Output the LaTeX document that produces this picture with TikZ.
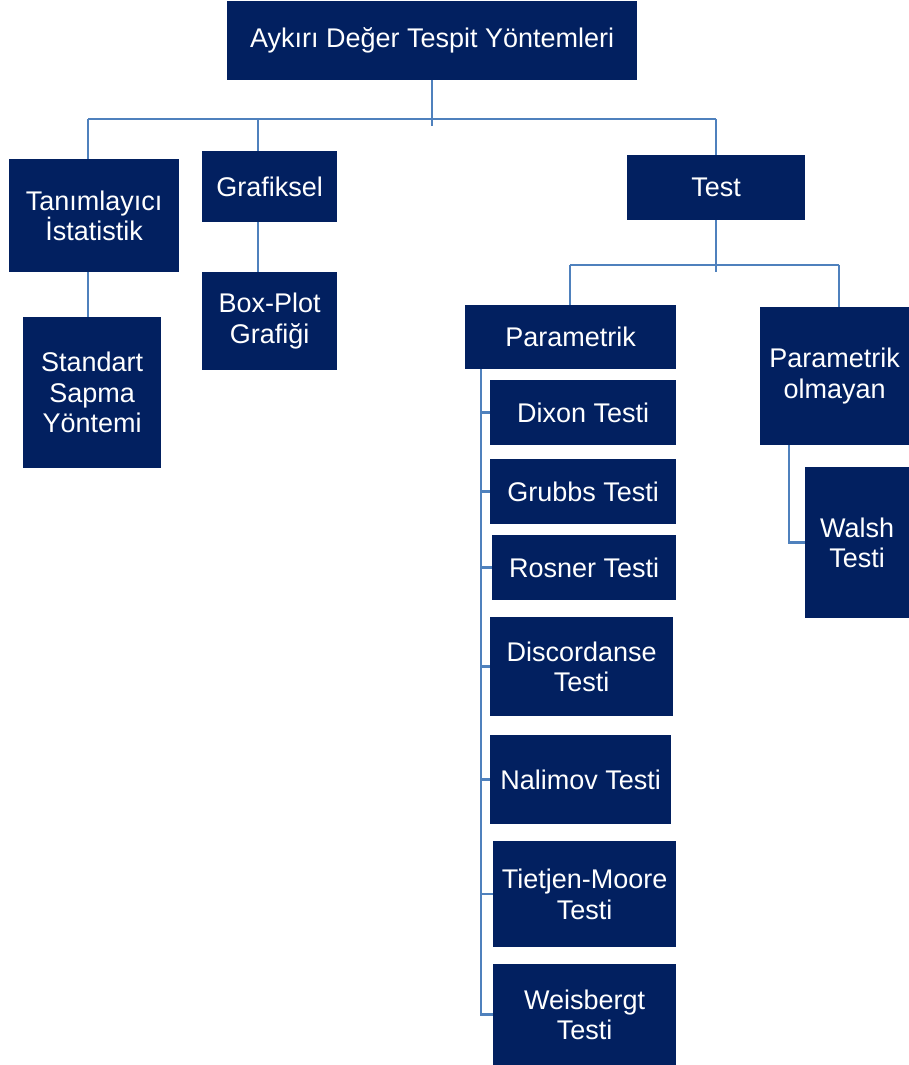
\documentclass[tikz,border=0pt]{standalone}
\usepackage{fontspec}
\setmainfont{Liberation Sans}
\definecolor{boxblue}{RGB}{2,32,96}
\definecolor{linkblue}{RGB}{79,129,189}
\begin{document}
\begin{tikzpicture}[x=1pt,y=-1pt,
  box/.style={fill=boxblue, text=white, inner sep=0pt, anchor=north west, align=center,
              font=\fontsize{27}{30.5}\selectfont},
  conn/.style={draw=linkblue, line width=2.5pt}]
\useasboundingbox (0,0) rectangle (909,1065);

\coordinate (hubL) at (88,119);
\coordinate (hubR) at (716,119);
\coordinate (gx) at (258,119);
\coordinate (h2L) at (570,265);
\coordinate (h2R) at (839,265);

% boxes
\node[box, minimum width=410pt, minimum height=79pt] (root) at (227,1) {Aykırı Değer Tespit Yöntemleri};
\node[box, minimum width=170pt, minimum height=113pt] (tan) at (9,159) {Tanımlayıcı\\İstatistik};
\node[box, minimum width=135pt, minimum height=71pt] (graf) at (202,151) {Grafiksel};
\node[box, minimum width=178pt, minimum height=65pt] (test) at (627,155) {Test};
\node[box, minimum width=135pt, minimum height=98pt] (boxp) at (202,272) {Box-Plot\\Grafiği};
\node[box, minimum width=138pt, minimum height=151pt] (std) at (23,317) {Standart\\Sapma\\Yöntemi};
\node[box, minimum width=211pt, minimum height=64pt] (par) at (465,305) {Parametrik};
\node[box, minimum width=149pt, minimum height=138pt] (npar) at (760,307) {Parametrik\\olmayan};
\node[box, minimum width=104pt, minimum height=151pt] (walsh) at (805,467) {Walsh\\Testi};
\node[box, minimum width=186pt, minimum height=65pt] (dixon) at (490,380) {Dixon Testi};
\node[box, minimum width=186pt, minimum height=65pt] (grubbs) at (490,459) {Grubbs Testi};
\node[box, minimum width=184pt, minimum height=65pt] (rosner) at (492,535) {Rosner Testi};
\node[box, minimum width=183pt, minimum height=99pt] (disc) at (490,617) {Discordanse\\Testi};
\node[box, minimum width=181pt, minimum height=89pt] (nal) at (490,735) {Nalimov Testi};
\node[box, minimum width=183pt, minimum height=106pt] (tiet) at (493,841) {Tietjen-Moore\\Testi};
\node[box, minimum width=183pt, minimum height=101pt] (weis) at (493,964) {Weisbergt\\Testi};

% top level
\draw[conn] (root.south) -- ++(0,46);
\draw[conn] (hubL) -- (hubR);
\draw[conn] (hubL) -- (tan.north -| hubL);
\draw[conn] (gx) -- (graf.north -| gx);
\draw[conn] (hubR) -- (test.north -| hubR);
\draw[conn] (graf.south -| gx) -- (boxp.north -| gx);
\draw[conn] (tan.south -| hubL) -- (std.north -| hubL);

% test subtree
\draw[conn] (test.south) -- ++(0,52);
\draw[conn] (h2L) -- (h2R);
\draw[conn] (h2L) -- (par.north -| h2L);
\draw[conn] (h2R) -- (npar.north -| h2R);

% parametrik spine
\coordinate (sp) at (481,369);
\draw[conn] (sp) |- (weis.west);
\foreach \n in {dixon,grubbs,rosner,disc,nal,tiet}
  \draw[conn] (sp |- \n.west) -- (\n.west);

% walsh
\coordinate (wx) at (789,445);
\draw[conn] (wx) |- (walsh.west);
\end{tikzpicture}
\end{document}
